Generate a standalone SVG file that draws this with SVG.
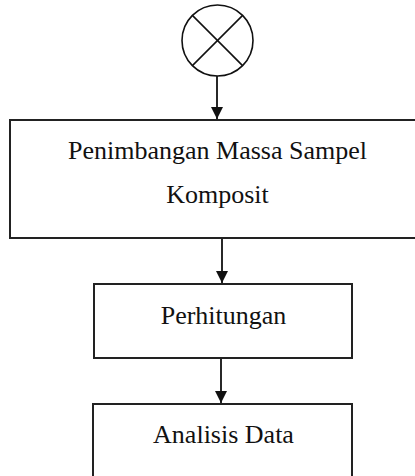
<svg xmlns="http://www.w3.org/2000/svg" width="415" height="476" viewBox="0 0 415 476">
<style>
.box{fill:#fff;stroke:#222;stroke-width:2}
.lbl{font-family:"Liberation Serif","Times New Roman",serif;font-size:26px;fill:#111;text-anchor:middle}
.conn{stroke:#111;stroke-width:1.8;fill:none}
</style>
<defs>
<marker id="ah" viewBox="0 0 12 12" refX="12" refY="6" markerWidth="12" markerHeight="12" markerUnits="userSpaceOnUse" orient="auto">
<path d="M0,0 L12,6 L0,12 Z" fill="#111"/>
</marker>
</defs>
<rect width="415" height="476" fill="#fff"/>
<g id="start">
<circle cx="217.5" cy="40.5" r="35.5" fill="#fff" stroke="#111" stroke-width="1.6"/>
<line x1="192.4" y1="15.4" x2="242.6" y2="65.6" stroke="#111" stroke-width="1.6"/>
<line x1="242.6" y1="15.4" x2="192.4" y2="65.6" stroke="#111" stroke-width="1.6"/>
</g>
<g id="penimbangan">
<rect class="box" x="10" y="120" width="420" height="118"/>
<text class="lbl" x="217.5" y="159">Penimbangan Massa Sampel</text>
<text class="lbl" x="217.5" y="203">Komposit</text>
</g>
<g id="perhitungan">
<rect class="box" x="94" y="284" width="258" height="74"/>
<text class="lbl" x="223.5" y="324">Perhitungan</text>
</g>
<g id="analisis">
<rect class="box" x="93" y="404" width="259" height="90"/>
<text class="lbl" x="223.5" y="443">Analisis Data</text>
</g>
<g id="connectors">
<line class="conn" x1="217" y1="76" x2="217" y2="119" marker-end="url(#ah)"/>
<line class="conn" x1="222" y1="239" x2="222" y2="283" marker-end="url(#ah)"/>
<line class="conn" x1="221" y1="359" x2="221" y2="403" marker-end="url(#ah)"/>
</g>
</svg>
